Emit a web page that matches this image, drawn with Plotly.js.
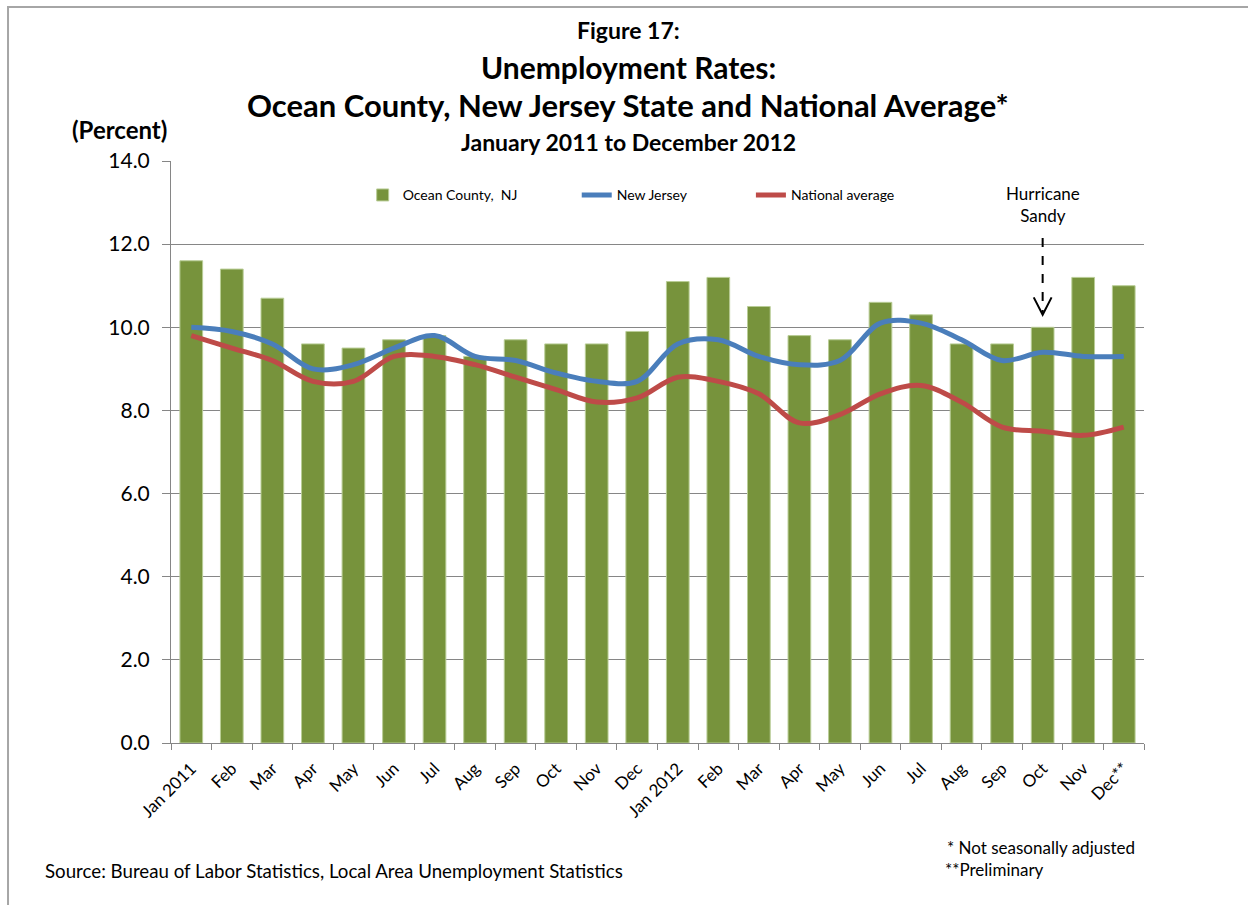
<!DOCTYPE html>
<html>
<head>
<meta charset="utf-8">
<script src="https://cdn.plot.ly/plotly-3.0.1.min.js"></script>
<style>
  body { margin: 0; background: #fff; }
  #chart { width: 1248px; height: 905px; }
</style>
</head>
<body>
<div id="chart"></div>
<script>
// Month ids (unique) and the labels shown under the axis
let months = ["2011-01","2011-02","2011-03","2011-04","2011-05","2011-06","2011-07","2011-08","2011-09","2011-10","2011-11","2011-12",
              "2012-01","2012-02","2012-03","2012-04","2012-05","2012-06","2012-07","2012-08","2012-09","2012-10","2012-11","2012-12"]
let tickLabels = ["Jan 2011","Feb","Mar","Apr","May","Jun","Jul","Aug","Sep","Oct","Nov","Dec",
                  "Jan 2012","Feb","Mar","Apr","May","Jun","Jul","Aug","Sep","Oct","Nov","Dec**"]

// Unemployment rates (percent)
let oceanCounty = [11.6, 11.4, 10.7, 9.6, 9.5, 9.7, 9.8, 9.3, 9.7, 9.6, 9.6, 9.9,
                   11.1, 11.2, 10.5, 9.8, 9.7, 10.6, 10.3, 9.6, 9.6, 10.0, 11.2, 11.0]
let newJersey = [10.0, 9.9, 9.6, 9.0, 9.1, 9.5, 9.8, 9.3, 9.2, 8.9, 8.7, 8.7,
                 9.6, 9.7, 9.3, 9.1, 9.2, 10.1, 10.1, 9.7, 9.2, 9.4, 9.3, 9.3]
let national = [9.8, 9.5, 9.2, 8.7, 8.7, 9.3, 9.3, 9.1, 8.8, 8.5, 8.2, 8.3,
                8.8, 8.7, 8.4, 7.7, 7.9, 8.4, 8.6, 8.2, 7.6, 7.5, 7.4, 7.6]

let font = "Lato, 'Open Sans', sans-serif"

let oceanTrace = {
    x: months,
    y: oceanCounty,
    name: "Ocean County,  NJ",
    type: "bar",
    marker: { color: "#77933C", line: { color: "#B9CD96", width: 1 } },
    legend: "legend"
}

let njTrace = {
    x: months,
    y: newJersey,
    name: "New Jersey",
    type: "scatter",
    mode: "lines",
    line: { color: "#4A7EBB", width: 5, shape: "spline", smoothing: 1 },
    legend: "legend2"
}

let nationalTrace = {
    x: months,
    y: national,
    name: "National average",
    type: "scatter",
    mode: "lines",
    line: { color: "#BE4B48", width: 5, shape: "spline", smoothing: 1 },
    legend: "legend3"
}

let data = [oceanTrace, njTrace, nationalTrace]

// Sandy hit at the end of October 2012
let sandyIdx = 21

function legendAt(x) {
    return {
        x: x, y: 0.941, xanchor: "left", yanchor: "middle",
        orientation: "h", bgcolor: "rgba(0,0,0,0)",
        font: { family: font, size: 14, color: "#000" }
    }
}

function note(text, x, y, size, bold, anchor) {
    return {
        xref: "paper", yref: "paper", x: x, y: y,
        xanchor: anchor || "center", yanchor: "middle",
        showarrow: false,
        text: bold ? "<b>" + text + "</b>" : text,
        font: { family: font, size: size, color: "#000" }
    }
}

let layout = {
    width: 1248,
    height: 905,
    margin: { l: 171, r: 104, t: 161, b: 162 },
    paper_bgcolor: "#fff",
    plot_bgcolor: "#fff",
    bargap: 0.44,
    showlegend: true,
    legend: legendAt(0.197),
    legend2: legendAt(0.417),
    legend3: legendAt(0.596),
    xaxis: {
        type: "category",
        tickmode: "array",
        tickvals: months,
        ticktext: tickLabels,
        tickangle: -45,
        tickson: "boundaries",
        ticks: "outside",
        ticklen: 6,
        tickcolor: "#868686",
        ticklabelstandoff: 8,
        showline: true,
        linecolor: "#868686",
        linewidth: 1,
        showgrid: false,
        tickfont: { family: font, size: 17, color: "#000" }
    },
    yaxis: {
        range: [0, 14],
        dtick: 2,
        tickformat: ".1f",
        ticks: "outside",
        ticklen: 8,
        tickcolor: "#868686",
        ticklabelstandoff: 8,
        showline: true,
        linecolor: "#868686",
        linewidth: 1,
        gridcolor: "#868686",
        gridwidth: 1,
        zeroline: false,
        tickfont: { family: font, size: 21, color: "#000" }
    },
    shapes: [
        // outer frame of the figure
        { type: "rect", xref: "paper", yref: "paper", x0: -0.1675, x1: 1.2, y0: -0.4, y1: 1.2647,
          line: { color: "#A6A6A6", width: 2 } },
        // dashed arrow for Hurricane Sandy
        { type: "line", xref: "x", yref: "y", x0: sandyIdx, x1: sandyIdx, y0: 12.15, y1: 10.35,
          line: { color: "#000", width: 2, dash: "dash" } },
        { type: "path", xref: "x", yref: "y",
          path: "M " + (sandyIdx - 0.22) + " 10.72 L " + sandyIdx + " 10.3 L " + (sandyIdx + 0.22) + " 10.72",
          line: { color: "#000", width: 2 } }
    ],
    annotations: [
        note("Figure 17:", 0.4697, 1.2243, 23, true),
        note("Unemployment Rates:", 0.4697, 1.1608, 30, true),
        note("Ocean County, New Jersey State and National Average*", 0.4697, 1.0955, 31, true),
        note("January 2011 to December 2012", 0.4697, 1.032, 23, true),
        note("(Percent)", -0.1038, 1.0535, 24, true, "left"),
        {
            xref: "x", yref: "y", x: months[sandyIdx], y: 12.96,
            showarrow: false, text: "Hurricane<br>Sandy",
            font: { family: font, size: 17, color: "#000" }
        },
        note("* Not seasonally adjusted", 0.9928, -0.1797, 17, false, "right"),
        note("**Preliminary", 0.7934, -0.2175, 17, false, "left"),
        note("Source: Bureau of Labor Statistics, Local Area Unemployment Statistics", -0.1316, -0.2192, 18.7, false, "left")
    ]
}

Plotly.newPlot("chart", data, layout, { displayModeBar: false, staticPlot: true })
</script>
</body>
</html>
